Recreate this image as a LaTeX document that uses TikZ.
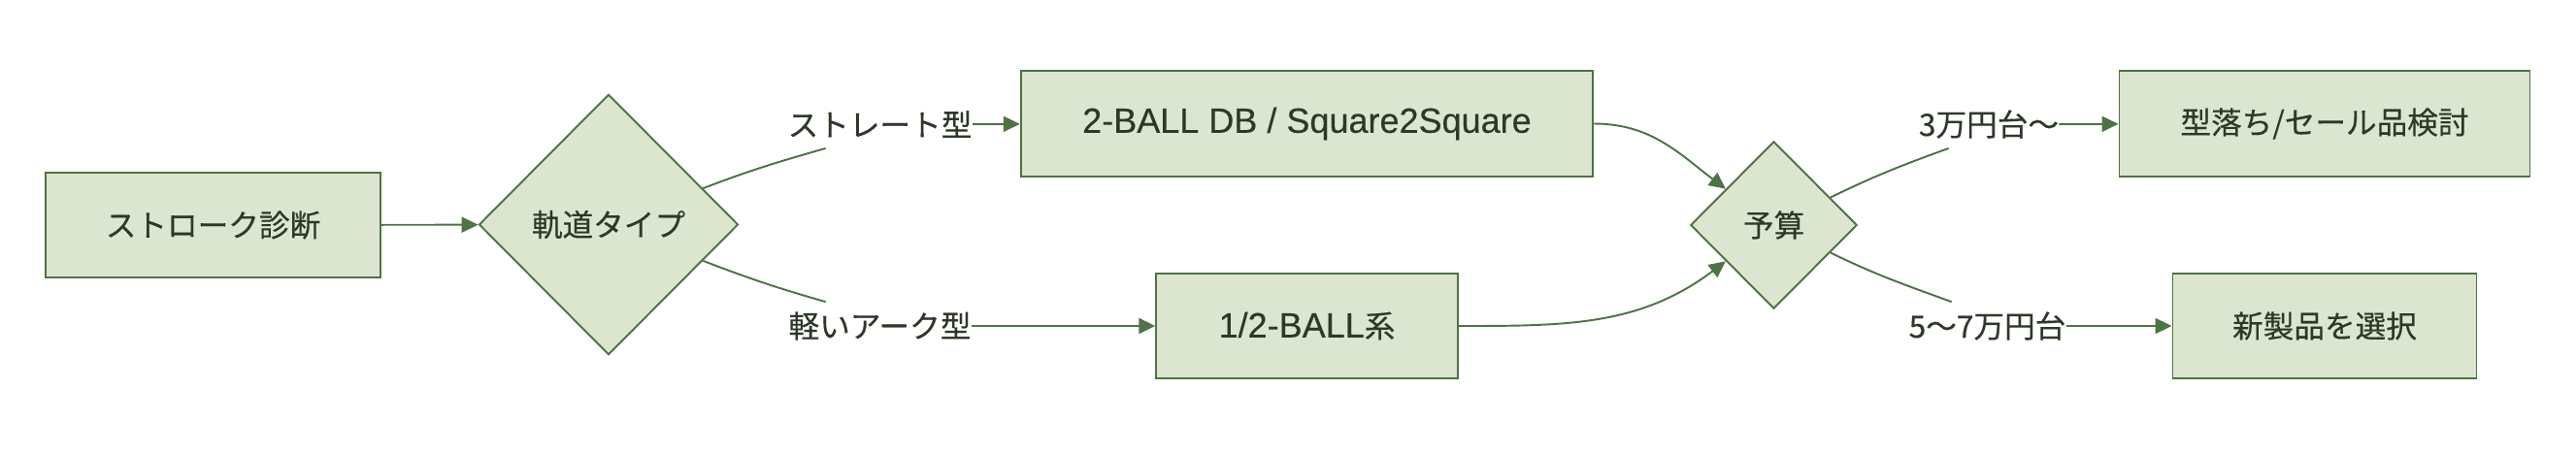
\documentclass[tikz,border=0pt]{standalone}
\usepackage{fontspec}
\setmainfont{Noto Sans CJK JP}[FakeBold=0.3]
\newfontfamily\latinfont{Liberation Sans}[FakeBold=0.3]
\usepackage{xcolor}
\usetikzlibrary{shapes.geometric, arrows.meta}
\definecolor{nodefill}{HTML}{DCE5CF}
\definecolor{nodeline}{HTML}{4E7345}
\definecolor{nodetext}{HTML}{2E3829}
\newcommand{\jpsize}{\fontsize{18pt}{22pt}\selectfont}
\newcommand{\latsize}{\latinfont\fontsize{20.5pt}{24pt}\selectfont}
\tikzstyle{arrow} = [line width=1.1pt, draw=nodeline, -{Triangle[length=0.34cm,width=0.32cm]}]
\tikzstyle{link}  = [line width=1.1pt, draw=nodeline]
\tikzset{every node/.style={align=center, text=nodetext, font=\jpsize}}

\begin{document}
\begin{tikzpicture}[
    box/.style={draw=nodeline, fill=nodefill, line width=1.1pt, minimum height=2.17cm},
    choice/.style={diamond, draw=nodeline, fill=nodefill, line width=1.1pt, shape aspect=1, inner sep=0pt},
    lbl/.style={fill=white, inner xsep=0pt, inner ysep=0pt, minimum height=0.98cm}
]
  \useasboundingbox (0,0) rectangle (53.08,-9.36);
  % Flow nodes
  \node (diag) at (4.39,-4.64)  [box, minimum width=6.89cm] {ストローク診断};
  \node (traj) at (12.54,-4.63) [choice, minimum width=5.34cm, minimum height=5.37cm] {軌道タイプ};
  \node (dbl)  at (26.93,-2.55) [box, minimum width=11.79cm] {\latsize 2-BALL DB / Square2Square};
  \node (half) at (26.93,-6.72) [box, minimum width=6.21cm] {{\latsize 1/2-BALL}系};
  \node (bud)  at (36.55,-4.64) [choice, minimum width=3.43cm, minimum height=3.45cm] {予算};
  \node (sale) at (47.90,-2.55) [box, minimum width=8.46cm] {型落ち/セール品検討};
  \node (new)  at (47.90,-6.72) [box, minimum width=6.26cm] {新製品を選択};
  % Edge labels
  \node (lblS) at (18.13,-2.56) [lbl] {ストレート型};
  \node (lblA) at (18.13,-6.72) [lbl] {軽いアーク型};
  \node (lbl3) at (40.98,-2.56) [lbl] {3万円台〜};
  \node (lbl5) at (40.95,-6.72) [lbl] {5〜7万円台};
  % Edges
  \draw[arrow] (diag) -- (traj);
  \draw[link]  (traj.21) to[out=21,in=196] (lblS.204);
  \draw[arrow] (lblS) -- (dbl);
  \draw[link]  (traj.-21) to[out=-21,in=164] (lblA.156);
  \draw[arrow] (lblA) -- (half);
  \draw[arrow] (dbl) to[out=0,in=143] (bud);
  \draw[arrow] (half) to[out=0,in=217] (bud);
  \draw[link]  (bud.26) to[out=26,in=200] (lbl3.211);
  \draw[arrow] (lbl3) -- (sale);
  \draw[link]  (bud.-26) to[out=-26,in=160] (lbl5.146);
  \draw[arrow] (lbl5) -- (new);
\end{tikzpicture}
\end{document}
